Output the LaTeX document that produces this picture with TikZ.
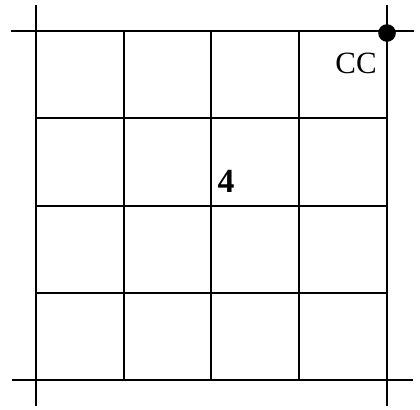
\documentclass[tikz,border=0pt]{standalone}
\usepackage{fontspec}
\setmainfont{Liberation Serif}
\usetikzlibrary{positioning,calc}
\tikzset{
  gridline/.style={line width=1.6pt, black},
  cornerdot/.style={circle, fill=black, inner sep=0pt, minimum size=0.44cm},
  celllabel/.style={font=\fontsize{22}{24}\selectfont, inner sep=0pt},
  celllabelbold/.style={font=\fontsize{24}{26}\selectfont\bfseries, inner sep=0pt}
}

\begin{document}
\begin{tikzpicture}[x=0.025cm, y=-0.025cm]
  \useasboundingbox (0,0) rectangle (420,409);
  % inner grid lines
  \foreach \x in {124,211,299} \draw[gridline] (\x,31) -- (\x,380);
  \foreach \y in {118,206,293} \draw[gridline] (36,\y) -- (387,\y);
  % outer lines, running past the corners
  \draw[gridline] (36,5) -- (36,406);
  \draw[gridline] (387,5) -- (387,406);
  \draw[gridline] (11,31) -- (414,31);
  \draw[gridline] (12,380) -- (413,380);
  \node[cornerdot] (cc) at (387,33) {};
  \node[celllabel] (cclabel) at (356,63) {CC};
  \node[celllabelbold] (four) at (226,181) {4};
\end{tikzpicture}
\end{document}
